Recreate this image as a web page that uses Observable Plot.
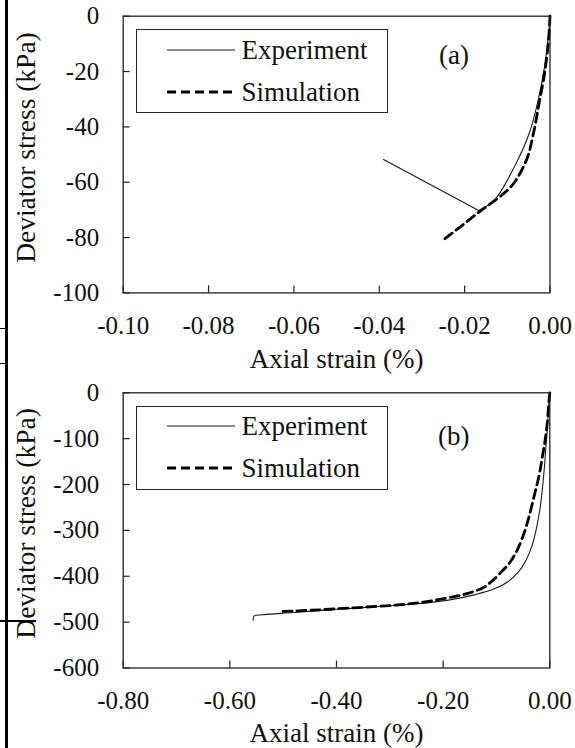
<!DOCTYPE html>
<html>
<head>
<meta charset="utf-8">
<script src="https://cdn.jsdelivr.net/npm/d3@7"></script>
<script src="https://cdn.jsdelivr.net/npm/@observablehq/plot@0.6"></script>
<style>
  body { margin: 0; background: #fff; font-size: 27px; }
  #wrap { position: relative; width: 575px; height: 748px; overflow: hidden; }
  .panel { position: absolute; left: 0; width: 575px; height: 374px; }
  .legend { position: absolute; left: 135.6px; width: 252.4px; height: 84px; box-sizing: border-box; border: 1.3px solid #222; background: #fff; }
  .row { position: absolute; left: 0; width: 100%; height: 40px; }
  .row svg { position: absolute; left: 30px; top: 0; }
  .row span { position: absolute; left: 105px; top: 50%; transform: translateY(-50%); font-size: 27px; line-height: 1; color: #111; white-space: nowrap; }
  .deco { position: absolute; background: #000; }
</style>
</head>
<body>
<div id="wrap">
  <div class="panel" id="pa" style="top:0px"></div>
  <div class="panel" id="pb" style="top:374px"></div>
  <div class="legend" style="top:29.3px">
    <div class="row" style="top:-0.6px"><svg width="72" height="40"><line x1="0" x2="68" y1="20" y2="20" stroke="#1a1a1a" stroke-width="1.1"/></svg><span style="font-family:'Liberation Serif',serif">Experiment</span></div>
    <div class="row" style="top:41.4px"><svg width="72" height="40"><line x1="0" x2="68" y1="20" y2="20" stroke="#000" stroke-width="2.8" stroke-dasharray="9,5"/></svg><span style="font-family:'Liberation Serif',serif">Simulation</span></div>
  </div>
  <div class="legend" style="top:405.7px">
    <div class="row" style="top:-0.6px"><svg width="72" height="40"><line x1="0" x2="68" y1="20" y2="20" stroke="#1a1a1a" stroke-width="1.1"/></svg><span style="font-family:'Liberation Serif',serif">Experiment</span></div>
    <div class="row" style="top:41.4px"><svg width="72" height="40"><line x1="0" x2="68" y1="20" y2="20" stroke="#000" stroke-width="2.8" stroke-dasharray="9,5"/></svg><span style="font-family:'Liberation Serif',serif">Simulation</span></div>
  </div>
  <div class="deco" style="left:5px;top:0;width:3px;height:748px"></div>
  <div class="deco" style="left:0;top:327.5px;width:6px;height:1.5px"></div>
  <div class="deco" style="left:0;top:362.5px;width:6px;height:1.5px"></div>
  <div class="deco" style="left:0;top:620px;width:36px;height:1.5px"></div>
</div>
<script>
// ---------- Data ----------
const seriesNames = ["Experiment", "Simulation"];
const xLabel = "Axial strain (%)";
const yLabel = "Deviator stress (kPa)";

// Panel (a)
const xTicksA = [-0.10, -0.08, -0.06, -0.04, -0.02, 0.00];
const yTicksA = [0, -20, -40, -60, -80, -100];
const expStrainA = [0, -0.00035, -0.0013, -0.0028, -0.0049, -0.0084, -0.0131, -0.0167, -0.039];
const expStressA = [0, -6.5, -18.4, -30.5, -42.5, -54.6, -66.6, -70.2, -51.8];
const simStrainA = [0, -0.0003, -0.0012, -0.0025, -0.0039, -0.0054, -0.0084, -0.0114, -0.0147, -0.0165, -0.0205, -0.0247];
const simStressA = [0, -8, -20, -31, -42.5, -51.5, -60.2, -64.8, -68.6, -70.6, -75.5, -80.5];

// Panel (b)
const xTicksB = [-0.80, -0.60, -0.40, -0.20, 0.00];
const yTicksB = [0, -100, -200, -300, -400, -500, -600];
const expStrainB = [0, -0.002, -0.004, -0.007, -0.010, -0.0135, -0.018, -0.024, -0.033, -0.045, -0.06, -0.08, -0.105, -0.14, -0.19, -0.25, -0.32, -0.40, -0.48, -0.54, -0.555, -0.556];
const expStressB = [0, -30, -65, -115, -160, -205, -250, -290, -332, -366, -392, -413, -428, -440, -452, -460, -466, -472, -479, -484, -487, -496];
const simStrainB = [0, -0.002, -0.005, -0.009, -0.0143, -0.020, -0.027, -0.035, -0.043, -0.052, -0.062, -0.075, -0.092, -0.11, -0.125, -0.15, -0.173, -0.21, -0.241, -0.29, -0.343, -0.40, -0.446, -0.507];
const simStressB = [0, -25, -69, -105, -142, -180, -214, -252, -287, -318, -345, -370, -392, -412, -425, -436, -443, -451, -457, -463, -467, -471, -474, -477];

// ---------- Styles ----------
const expStyle = {stroke: "#1a1a1a", strokeWidth: 1.1};
const simStyle = {stroke: "#000", strokeWidth: 2.8, dash: "9,5"};

// split a path at its most negative stress (loading / unloading branches)
function branches(xs, ys) {
  let k = 0;
  ys.forEach((v, i) => { if (v < ys[k]) k = i; });
  const pts = [];
  xs.forEach((x, i) => {
    if (i <= k) pts.push({x, y: ys[i], z: "load"});
    if (i >= k && k < xs.length - 1) pts.push({x, y: ys[i], z: "unload"});
  });
  return pts;
}

function makePanel(cfg) {
  const W = 575, H = 374;
  const fw = W - cfg.ml - cfg.mr;
  const fh = H - cfg.mt - cfg.mb;
  const exp = branches(cfg.expX, cfg.expY);
  const sim = cfg.simX.map((x, i) => ({x, y: cfg.simY[i]}));
  return Plot.plot({
    width: W, height: H,
    marginTop: cfg.mt, marginBottom: cfg.mb, marginLeft: cfg.ml, marginRight: cfg.mr,
    style: {fontFamily: "'Liberation Serif'", fontSize: "25px", color: "#111", overflow: "visible"},
    x: {domain: cfg.xDomain},
    y: {domain: cfg.yDomain},
    marks: [
      Plot.axisX(cfg.xTicks, {tickSize: 0, tickPadding: 23, label: null, tickFormat: d => d.toFixed(2)}),
      Plot.axisY(cfg.yTicks, {tickSize: 0, tickPadding: 24, label: null, tickFormat: d => String(d)}),
      Plot.tickX(cfg.xTicks, {x: d => d, insetTop: fh - 7, stroke: "#222", strokeWidth: 1.2}),
      Plot.tickY(cfg.yTicks, {y: d => d, insetRight: fw - 7, stroke: "#222", strokeWidth: 1.2}),
      Plot.line(exp, {x: "x", y: "y", z: "z", stroke: expStyle.stroke, strokeWidth: expStyle.strokeWidth, curve: "catmull-rom"}),
      Plot.line(sim, {x: "x", y: "y", stroke: simStyle.stroke, strokeWidth: simStyle.strokeWidth, strokeDasharray: simStyle.dash, curve: "catmull-rom"}),
      Plot.frame({stroke: "#222", strokeWidth: 1.3}),
      Plot.text([cfg.tag], {text: d => d, frameAnchor: "top-right", dx: -96, dy: cfg.tagDy, fontSize: 27, textAnchor: "middle", lineAnchor: "middle"}),
      Plot.text([xLabel], {text: d => d, frameAnchor: "bottom", dy: cfg.xLabDy, fontSize: 27, textAnchor: "middle", lineAnchor: "middle"}),
      Plot.text([yLabel], {text: d => d, frameAnchor: "left", dx: -96.7, dy: -7, rotate: -90, fontSize: 27.5, textAnchor: "middle", lineAnchor: "middle"})
    ]
  });
}

const pa = makePanel({
  ml: 122.7, mr: 25.5, mt: 15.7, mb: 81.6,
  xDomain: [-0.10, 0], yDomain: [-100, 0],
  xTicks: xTicksA, yTicks: yTicksA,
  expX: expStrainA, expY: expStressA, simX: simStrainA, simY: simStressA,
  tag: "(a)", tagDy: 39, xLabDy: 66
});
const pb = makePanel({
  ml: 122.7, mr: 25.7, mt: 18.3, mb: 80.5,
  xDomain: [-0.80, 0], yDomain: [-600, 0],
  xTicks: xTicksB, yTicks: yTicksB,
  expX: expStrainB, expY: expStressB, simX: simStrainB, simY: simStressB,
  tag: "(b)", tagDy: 44, xLabDy: 65.5
});
document.getElementById("pa").appendChild(pa);
document.getElementById("pb").appendChild(pb);
</script>
</body>
</html>
